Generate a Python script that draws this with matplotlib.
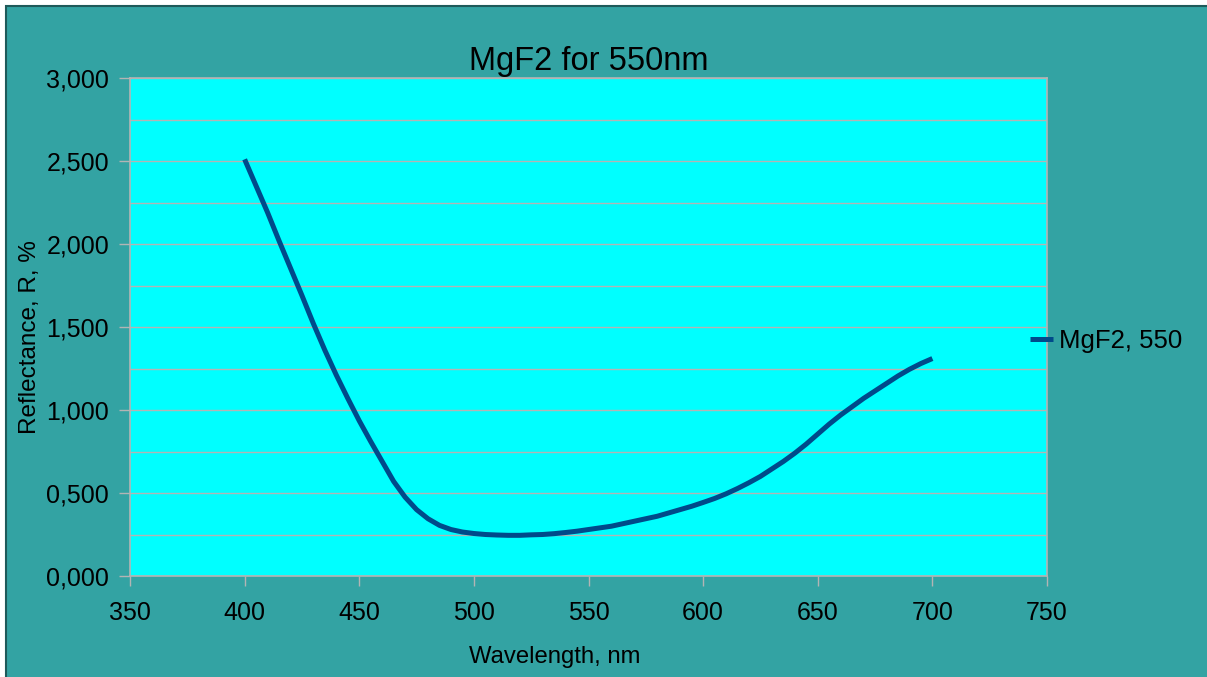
import numpy as np
import matplotlib.pyplot as plt
from matplotlib.patches import Rectangle
from matplotlib.ticker import FuncFormatter, MultipleLocator

# Data (every 5 nm)
wavelength = list(range(400, 705, 5))
reflectance = [2.51, 2.35, 2.19, 2.02, 1.855, 1.69, 1.52, 1.36,    # 400-435
               1.21, 1.07, 0.935, 0.81, 0.69, 0.57, 0.475, 0.40,    # 440-475
               0.345, 0.305, 0.28, 0.265, 0.256, 0.25, 0.247, 0.245,  # 480-515
               0.245, 0.248, 0.25, 0.255, 0.262, 0.27, 0.28, 0.29,   # 520-555
               0.30, 0.315, 0.33, 0.345, 0.36, 0.38, 0.40, 0.42,     # 560-595
               0.443, 0.467, 0.495, 0.527, 0.562, 0.60, 0.645, 0.69,  # 600-635
               0.74, 0.795, 0.855, 0.915, 0.97, 1.02, 1.07, 1.115,   # 640-675
               1.16, 1.205, 1.245, 1.28, 1.31]                       # 680-700
series_name = "MgF2, 550"
x_ticks = [350, 400, 450, 500, 550, 600, 650, 700, 750]

plt.rcParams["font.family"] = ["Liberation Sans", "DejaVu Sans"]

teal = "#33A3A3"
grid_col = "#B4B4B4"

fig = plt.figure(figsize=(12.07, 6.77), dpi=100, facecolor="white")
# outer chart area with dark border
fig.add_artist(Rectangle((6 / 1207, -0.01), 1.02, 1 - 6 / 677 + 0.01,
                         transform=fig.transFigure, facecolor=teal,
                         edgecolor="#1E5A5A", linewidth=1.5, zorder=-10))

ax = fig.add_axes([130 / 1207, 1 - 576 / 677, (1047 - 130) / 1207, (576 - 78) / 677])
ax.set_facecolor("#00FFFF")
ax.plot(wavelength, reflectance, color="#004A8A", linewidth=3.6,
        solid_capstyle="butt", solid_joinstyle="round", label=series_name, zorder=3)

ax.set_xlim(350, 750)
ax.set_ylim(0, 3)
ax.set_xticks(x_ticks)
ax.yaxis.set_major_locator(MultipleLocator(0.5))
ax.yaxis.set_minor_locator(MultipleLocator(0.25))
ax.yaxis.set_major_formatter(FuncFormatter(lambda v, p: f"{v:.3f}".replace(".", ",")))
ax.grid(axis="y", which="both", color=grid_col, linewidth=1.0, zorder=1)
ax.tick_params(axis="y", which="minor", length=0)
ax.tick_params(axis="y", which="major", length=8, width=1, color=grid_col,
               labelsize=18, pad=7)
ax.tick_params(axis="x", length=7, width=1, color=grid_col, labelsize=18, pad=11)
for s in ax.spines.values():
    s.set_color(grid_col)
    s.set_linewidth(1.2)

ax.set_title("MgF2 for 550nm", fontsize=23.5, pad=6)
ax.set_xlabel("Wavelength, nm", fontsize=17.2)
ax.xaxis.set_label_coords((555 - 130) / 917, (576 - 646) / 498)
ax.set_ylabel("Reflectance, R, %", fontsize=17.5)
ax.yaxis.set_label_coords((41 - 130) / 917, (576 - 337) / 498)

ax.legend(loc="center left", bbox_to_anchor=(1017 / 1207, 1 - 341 / 677),
          bbox_transform=fig.transFigure, frameon=False, fontsize=18.5,
          handlelength=0.9, handletextpad=0.25, borderpad=0)

fig.savefig("out.png", dpi=100, facecolor=fig.get_facecolor())
